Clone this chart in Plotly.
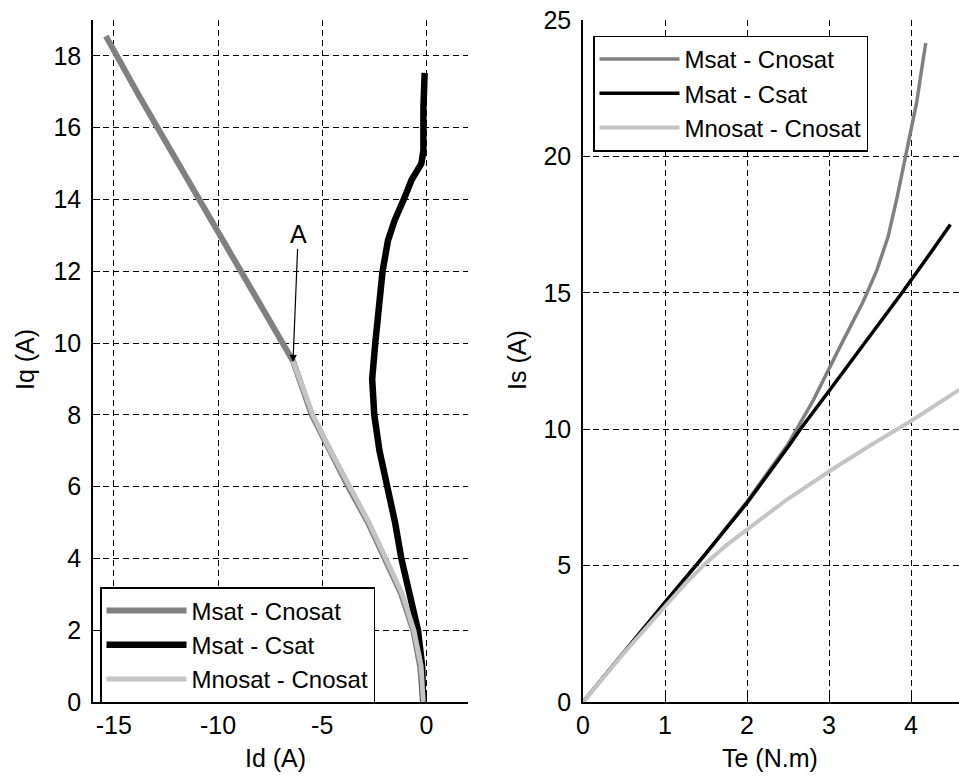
import plotly.graph_objects as go

# ---------------- Left panel: Id vs Iq ----------------
id_msat_cnosat = [-15.38, -14.6, -13.8, -12.9, -11.9, -10.9, -9.9, -8.9, -7.95, -6.97, -6.4,
                  -5.5, -4.65, -3.75, -2.8, -2.0, -1.2, -0.63, -0.3, -0.15]
iq_msat_cnosat = [18.55, 17.7, 16.9, 16.0, 15.0, 14.0, 13.0, 12.0, 11.0, 10.0, 9.5,
                  8.0, 7.0, 6.0, 5.0, 4.0, 3.0, 2.0, 1.0, 0.0]

id_msat_csat = [-0.15, -0.2, -0.4, -0.8, -1.2, -1.5, -1.9, -2.25, -2.5, -2.6, -2.45,
                -2.3, -2.1, -1.84, -1.52, -1.04, -0.72, -0.24, -0.14, -0.14, -0.08]
iq_msat_csat = [0.0, 1.0, 2.0, 3.0, 4.0, 5.0, 6.0, 7.0, 8.0, 9.0, 10.0,
                11.0, 12.0, 12.86, 13.42, 14.06, 14.53, 15.0, 15.36, 16.56, 17.53]

id_mnosat_cnosat = [-6.4, -5.45, -4.6, -3.7, -2.75, -1.95, -1.15, -0.6, -0.25, -0.15]
iq_mnosat_cnosat = [9.5, 8.0, 7.0, 6.0, 5.0, 4.0, 3.0, 2.0, 1.0, 0.0]

# ---------------- Right panel: Te vs Is ----------------
te_msat_cnosat = [0, 0.5, 1.0, 1.5, 2.0, 2.5, 2.81, 3.13, 3.42, 3.58, 3.72, 3.83, 3.93, 4.0, 4.07, 4.13, 4.18]
is_msat_cnosat = [0, 1.8, 3.65, 5.45, 7.35, 9.45, 11.07, 13.0, 14.7, 15.8, 17.05, 18.5, 20.0, 21.0, 22.0, 23.2, 24.16]

te_msat_csat = [0, 0.5, 1.0, 1.5, 2.0, 2.5, 2.65, 3.0, 3.5, 3.89, 4.2, 4.48]
is_msat_csat = [0, 1.8, 3.65, 5.45, 7.3, 9.35, 10.0, 11.4, 13.4, 15.0, 16.3, 17.5]

te_mnosat_cnosat = [0, 0.5, 1.0, 1.25, 1.5, 1.75, 2.0, 2.5, 3.0, 3.5, 4.0, 4.585]
is_mnosat_cnosat = [0, 1.8, 3.5, 4.35, 5.1, 5.75, 6.32, 7.45, 8.45, 9.4, 10.3, 11.44]

names = ["Msat - Cnosat", "Msat - Csat", "Mnosat - Cnosat"]
colors = ["#808080", "#000000", "#c4c4c4"]

left_x_ticks = [-15, -10, -5, 0]
left_x_labels = ["-15", "-10", "-5", "0"]
left_y_ticks = [0, 2, 4, 6, 8, 10, 12, 14, 16, 18]
right_x_ticks = [0, 1, 2, 3, 4]
right_y_ticks = [0, 5, 10, 15, 20, 25]

FONT = "Liberation Sans, Arial, sans-serif"
FS_TICK = 25
FS_LEG = 24
FS_TITLE = 25

fig = go.Figure()

# left traces
fig.add_trace(go.Scatter(x=id_msat_cnosat, y=iq_msat_cnosat, mode="lines", name=names[0],
                         line=dict(color=colors[0], width=6), xaxis="x", yaxis="y", legend="legend"))
fig.add_trace(go.Scatter(x=id_msat_csat, y=iq_msat_csat, mode="lines", name=names[1],
                         line=dict(color=colors[1], width=6.5), xaxis="x", yaxis="y", legend="legend"))
fig.add_trace(go.Scatter(x=id_mnosat_cnosat, y=iq_mnosat_cnosat, mode="lines", name=names[2],
                         line=dict(color=colors[2], width=5), xaxis="x", yaxis="y", legend="legend"))

# right traces
fig.add_trace(go.Scatter(x=te_msat_cnosat, y=is_msat_cnosat, mode="lines", name=names[0],
                         line=dict(color=colors[0], width=3.5), xaxis="x2", yaxis="y2", legend="legend2"))
fig.add_trace(go.Scatter(x=te_msat_csat, y=is_msat_csat, mode="lines", name=names[1],
                         line=dict(color=colors[1], width=3.5), xaxis="x2", yaxis="y2", legend="legend2"))
fig.add_trace(go.Scatter(x=te_mnosat_cnosat, y=is_mnosat_cnosat, mode="lines", name=names[2],
                         line=dict(color=colors[2], width=4), xaxis="x2", yaxis="y2", legend="legend2"))

W, H = 959, 779
ybot, ytop = 702, 20
ydom = [(H - ybot) / H, (H - ytop) / H]

axis_common = dict(
    showline=True, linecolor="black", linewidth=1.5,
    showgrid=True, gridcolor="black", gridwidth=1.3, griddash="6px,4px",
    zeroline=False, ticks="inside", ticklen=7, tickcolor="black", tickwidth=1.3,
    tickfont=dict(family=FONT, size=FS_TICK, color="black"), mirror=False,
    automargin=False,
)
xaxis_extra = dict(ticklabelstandoff=0)
yaxis_extra = dict(ticklabelstandoff=5)

legend_common = dict(
    bgcolor="white", bordercolor="black", borderwidth=1.5,
    font=dict(family=FONT, size=FS_LEG, color="black"),
    xanchor="left", yanchor="middle", itemwidth=80, tracegroupgap=0,
)

fig.update_layout(
    template="none",
    width=W, height=H,
    margin=dict(l=0, r=0, t=0, b=0, autoexpand=False),
    paper_bgcolor="white", plot_bgcolor="white",
    showlegend=True,
    xaxis=dict(domain=[93 / W, 468 / W], range=[-16, 2], tickvals=left_x_ticks,
               ticktext=left_x_labels, anchor="y", **axis_common, **xaxis_extra),
    yaxis=dict(domain=ydom, range=[0, 19], tickvals=left_y_ticks, anchor="x",
               **axis_common, **yaxis_extra),
    xaxis2=dict(domain=[583 / W, 1.0], range=[0, 4.585], tickvals=right_x_ticks,
                anchor="y2", **axis_common, **xaxis_extra),
    yaxis2=dict(domain=ydom, range=[0, 25], tickvals=right_y_ticks, anchor="x2",
                **axis_common, **yaxis_extra),
    legend=dict(x=100 / W, y=(H - 645) / H, **legend_common),
    legend2=dict(x=593 / W, y=(H - 93.5) / H, **legend_common),
)

# axis titles as annotations
titles = [
    dict(text="Id (A)", x=275 / W, y=(H - 758) / H, textangle=0),
    dict(text="Te (N.m)", x=770 / W, y=(H - 758) / H, textangle=0),
    dict(text="Iq (A)", x=25 / W, y=(H - 360) / H, textangle=-90),
    dict(text="Is (A)", x=517 / W, y=(H - 360) / H, textangle=-90),
]
for t in titles:
    fig.add_annotation(xref="paper", yref="paper", showarrow=False,
                       xanchor="center", yanchor="middle",
                       font=dict(family=FONT, size=FS_TITLE, color="black"), **t)

# point A annotation
fig.add_annotation(x=-6.4, y=9.47, xref="x", yref="y", ax=-6.15, ay=13.05, axref="x", ayref="y",
                   text="A", showarrow=True, arrowhead=2, arrowsize=1.2, arrowwidth=1.2,
                   arrowcolor="black", font=dict(family=FONT, size=FS_TITLE, color="black"))

fig.write_html("out.html")
